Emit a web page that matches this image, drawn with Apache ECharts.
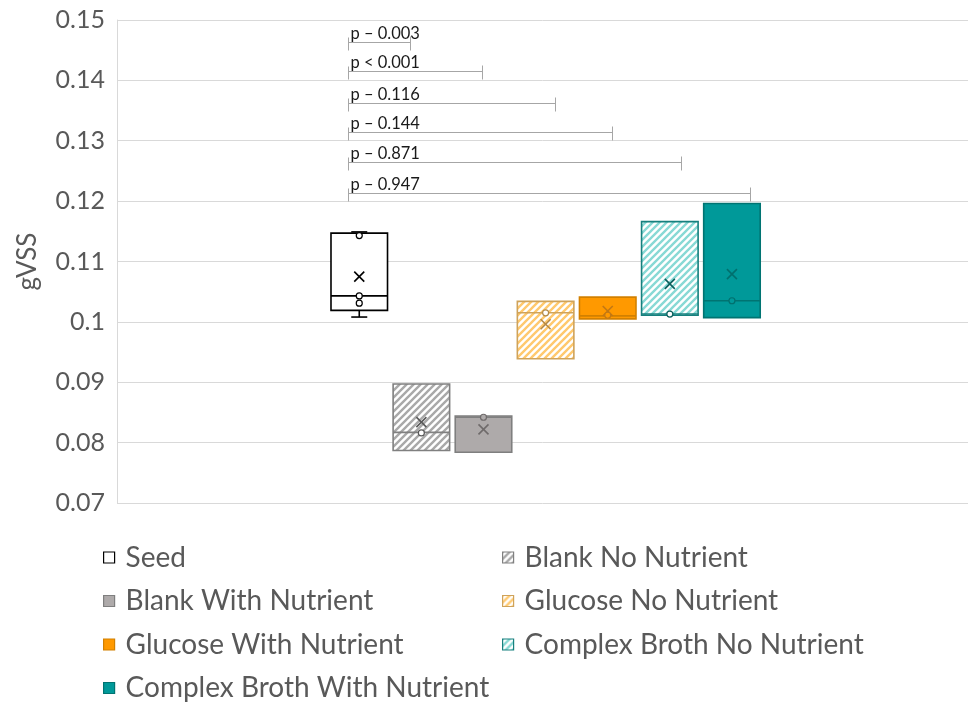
<!DOCTYPE html>
<html>
<head>
<meta charset="utf-8">
<script src="https://cdn.jsdelivr.net/npm/echarts@6/dist/echarts.min.js"></script>
<style>
  html, body { margin: 0; padding: 0; background: #ffffff; }
  #chart { width: 971px; height: 704px; }
</style>
</head>
<body>
<div id="chart"></div>
<script>
// Groups, in plotting order
const categories = [
  'Seed',
  'Blank No Nutrient',
  'Blank With Nutrient',
  'Glucose No Nutrient',
  'Glucose With Nutrient',
  'Complex Broth No Nutrient',
  'Complex Broth With Nutrient'
];

// Box statistics (gVSS)
const lowValues    = [0.1008, 0.0787, 0.0784, 0.0939, 0.1005, 0.1011, 0.1007];
const q1Values     = [0.1019, 0.0787, 0.0784, 0.0939, 0.1005, 0.1011, 0.1007];
const medianValues = [0.1043, 0.0817, 0.0842, 0.1015, 0.1010, 0.1013, 0.1035];
const q3Values     = [0.1147, 0.0897, 0.0844, 0.1034, 0.1041, 0.1166, 0.1196];
const highValues   = [0.1149, 0.0897, 0.0844, 0.1034, 0.1041, 0.1166, 0.1196];
const meanValues   = [0.1075, 0.0834, 0.0822, 0.0996, 0.1018, 0.1063, 0.1079];

// Inner data points shown on each box
const innerPoints = [
  [0.1143, 0.1043, 0.1031],
  [0.0816],
  [0.0842],
  [0.1015],
  [0.1011],
  [0.1013],
  [0.1035]
];

// Y axis range
const yMin = 0.07, yMax = 0.15, yStep = 0.01;

// Significance brackets: each runs from the Seed box to a treatment box
const pLabels = ['p – 0.003', 'p < 0.001', 'p – 0.116', 'p – 0.144', 'p – 0.871', 'p – 0.947'];
const pLevels = [0.1463, 0.1415, 0.1363, 0.1314, 0.1264, 0.1214];
const pStart  = -0.174;
const pEnds   = [0.816, 1.98, 3.145, 4.063, 5.18, 6.29];

// Appearance of each group
const looks = [
  { fill: '#ffffff', stroke: '#000000', mark: '#000000', hatch: null },
  { fill: null,      stroke: '#808080', mark: '#595959', hatch: '#a9a9a9' },
  { fill: '#aeaaaa', stroke: '#7f7f7f', mark: '#6f6b6b', hatch: null },
  { fill: null,      stroke: '#cfa35a', mark: '#b38a48', hatch: '#ffc96e' },
  { fill: '#ff9900', stroke: '#d28000', mark: '#c27814', hatch: null },
  { fill: null,      stroke: '#16807e', mark: '#0d5f5d', hatch: '#88d9d5' },
  { fill: '#009999', stroke: '#007472', mark: '#00706e', hatch: null }
];
const boxWidth = 0.91;
const FONT = 'Lato, "Open Sans", sans-serif';

function hatchFill(color) {
  const n = 7;
  const c = document.createElement('canvas');
  c.width = n; c.height = n;
  const g = c.getContext('2d');
  g.fillStyle = '#ffffff';
  g.fillRect(0, 0, n, n);
  g.strokeStyle = color;
  g.lineWidth = 2.4;
  g.beginPath();
  g.moveTo(-2, n + 2); g.lineTo(n + 2, -2);
  g.moveTo(-2, 2); g.lineTo(2, -2);
  g.moveTo(n - 2, n + 2); g.lineTo(n + 2, n - 2);
  g.stroke();
  return { image: c, repeat: 'repeat' };
}

const fills = looks.map(l => l.hatch ? hatchFill(l.hatch) : l.fill);

function boxRenderer(k) {
  const look = looks[k];
  const boxFill = fills[k];
  const dotFill = look.hatch ? '#ffffff' : look.fill;
  return function (params, api) {
    const x = api.value(0);
    const w = api.size([boxWidth, 0])[0];
    const cx = api.coord([x, yMin])[0];
    const py = v => api.coord([x, v])[1];
    const low = api.value(1), q1 = api.value(2), med = api.value(3),
          q3 = api.value(4), high = api.value(5), mean = api.value(6);
    const yLow = py(low), yQ1 = py(q1), yMed = py(med), yQ3 = py(q3), yHigh = py(high), yMean = py(mean);
    const lw = 1.6;
    const capHalf = 8;
    const kids = [];
    const line = (x1, y1, x2, y2, color, width) => ({
      type: 'line',
      shape: { x1: x1, y1: y1, x2: x2, y2: y2 },
      style: { stroke: color, lineWidth: width }
    });
    if (high > q3) {
      kids.push(line(cx, yQ3, cx, yHigh, look.stroke, lw));
      kids.push(line(cx - capHalf, yHigh, cx + capHalf, yHigh, look.stroke, lw));
    }
    if (low < q1) {
      kids.push(line(cx, yQ1, cx, yLow, look.stroke, lw));
      kids.push(line(cx - capHalf, yLow, cx + capHalf, yLow, look.stroke, lw));
    }
    kids.push({
      type: 'rect',
      shape: { x: cx - w / 2, y: yQ3, width: w, height: yQ1 - yQ3 },
      style: { fill: boxFill, stroke: look.stroke, lineWidth: lw }
    });
    kids.push(line(cx - w / 2, yMed, cx + w / 2, yMed, look.stroke, lw));
    const m = 5;
    kids.push(line(cx - m, yMean - m, cx + m, yMean + m, look.mark, 1.6));
    kids.push(line(cx - m, yMean + m, cx + m, yMean - m, look.mark, 1.6));
    innerPoints[k].forEach(v => {
      kids.push({
        type: 'circle',
        shape: { cx: cx, cy: py(v), r: 3 },
        style: { fill: dotFill, stroke: look.mark, lineWidth: 1.2 }
      });
    });
    return { type: 'group', children: kids };
  };
}

function bracketRenderer(params, api) {
  const i = params.dataIndex;
  const a = api.coord([api.value(0), api.value(2)]);
  const b = api.coord([api.value(1), api.value(2)]);
  const y = Math.round(a[1]) + 0.5;
  const xa = Math.round(a[0]) + 0.5, xb = Math.round(b[0]) + 0.5;
  const st = { stroke: '#a6a6a6', lineWidth: 1 };
  return {
    type: 'group',
    children: [
      { type: 'line', shape: { x1: xa, y1: y, x2: xb, y2: y }, style: st },
      { type: 'line', shape: { x1: xa, y1: y - 5, x2: xa, y2: y + 8 }, style: st },
      { type: 'line', shape: { x1: xb, y1: y - 6, x2: xb, y2: y + 8 }, style: st },
      {
        type: 'text',
        style: {
          text: pLabels[i], x: xa + 2, y: y - 9,
          fill: '#1a1a1a', font: '16.5px ' + FONT,
          align: 'left', verticalAlign: 'middle'
        }
      }
    ]
  };
}

const boxSeries = categories.map((name, k) => ({
  name: name,
  type: 'custom',
  renderItem: boxRenderer(k),
  encode: { x: 0, y: [1, 2, 3, 4, 5, 6] },
  itemStyle: { color: fills[k], borderColor: looks[k].stroke, borderWidth: 1.2 },
  data: [[k, lowValues[k], q1Values[k], medianValues[k], q3Values[k], highValues[k], meanValues[k]]],
  silent: true
}));

const bracketSeries = {
  name: 'brackets',
  type: 'custom',
  renderItem: bracketRenderer,
  encode: { x: [0, 1], y: 2 },
  data: pLevels.map((lv, i) => [pStart, pEnds[i], lv]),
  silent: true
};

function legendItems(idxs) {
  return idxs.map(k => ({
    name: categories[k],
    icon: 'rect',
    itemStyle: { color: fills[k], borderColor: looks[k].stroke, borderWidth: 1.2 }
  }));
}

const legendCommon = {
  orient: 'vertical',
  top: 543.5,
  height: 300,
  itemWidth: 11,
  itemHeight: 11,
  itemGap: 15.5,
  padding: 0,
  selectedMode: false,
  textStyle: {
    fontSize: 28,
    color: '#595959',
    fontFamily: FONT,
    lineHeight: 27,
    padding: [0, 0, 0, 6]
  }
};

const chart = echarts.init(document.getElementById('chart'), null, { renderer: 'canvas' });
chart.setOption({
  animation: false,
  backgroundColor: '#ffffff',
  grid: { left: 117, right: 3, top: 20, bottom: 201, containLabel: false, outerBoundsMode: 'none' },
  xAxis: { type: 'value', min: -3.9, max: 9.8, show: false },
  yAxis: {
    type: 'value',
    min: yMin, max: yMax, interval: yStep,
    name: 'gVSS',
    nameLocation: 'middle',
    nameGap: 76,
    nameRotate: 90,
    nameTextStyle: { fontSize: 26, color: '#595959', fontFamily: FONT },
    axisLine: { show: true, onZero: false, lineStyle: { color: '#d9d9d9', width: 1 } },
    axisTick: { show: false },
    axisLabel: {
      fontSize: 25, color: '#595959', fontFamily: FONT, margin: 12,
      formatter: v => String(Math.round(v * 100) / 100)
    },
    splitLine: { show: true, lineStyle: { color: '#d9d9d9', width: 1 } }
  },
  legend: [
    Object.assign({ left: 103, data: legendItems([0, 2, 4, 6]) }, legendCommon),
    Object.assign({ left: 502, data: legendItems([1, 3, 5]) }, legendCommon)
  ],
  series: boxSeries.concat([bracketSeries])
});
</script>
</body>
</html>
